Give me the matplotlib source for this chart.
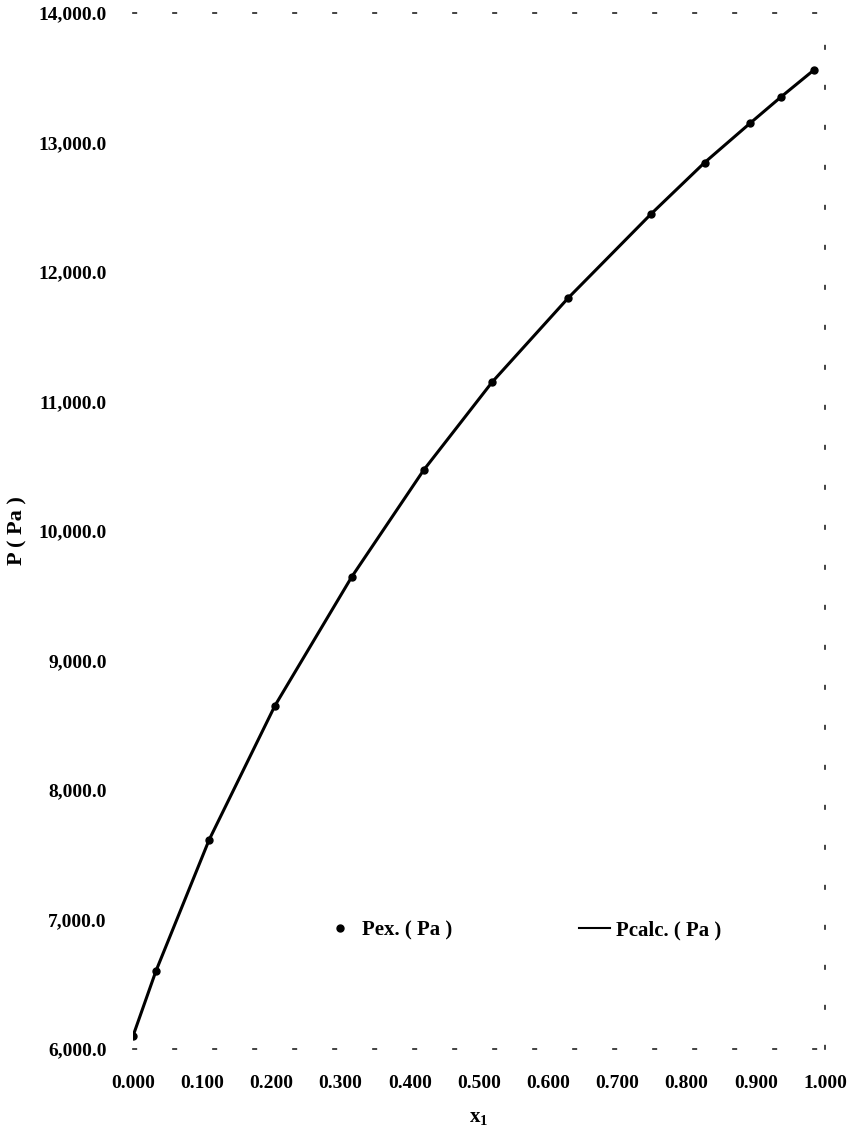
import matplotlib
matplotlib.use("Agg")
import matplotlib.pyplot as plt
from matplotlib.lines import Line2D
from matplotlib.ticker import FuncFormatter, MultipleLocator

# Vapour pressure vs liquid mole fraction
x1 = [0.000, 0.033, 0.110, 0.205, 0.316, 0.420, 0.519, 0.629, 0.749, 0.826,
      0.892, 0.936, 0.984]
p_exp = [6100, 6600, 7615, 8650, 9645, 10470, 11150, 11800, 12450, 12845,
         13150, 13350, 13560]
p_calc = [6100, 6600, 7615, 8650, 9645, 10470, 11150, 11800, 12450, 12845,
          13150, 13350, 13560]

plt.rcParams["font.family"] = ["Liberation Serif", "DejaVu Serif"]
plt.rcParams["font.weight"] = "bold"
plt.rcParams["mathtext.fontset"] = "custom"
plt.rcParams["mathtext.rm"] = "Liberation Serif"
plt.rcParams["mathtext.bf"] = "Liberation Serif:bold"

W, H = 856, 1130
fig = plt.figure(figsize=(W / 100, H / 100), dpi=100)
left, right, top, bottom = 133, 825, 13, 1049
ax = fig.add_axes([left / W, 1 - bottom / H, (right - left) / W, (bottom - top) / H])

ax.plot(x1, p_calc, color="black", lw=2.2, solid_joinstyle="round", zorder=2)
ax.plot(x1, p_exp, "o", color="black", ms=5, zorder=3)

ax.set_xlim(0, 1.0)
ax.set_ylim(6000, 14000)
ax.xaxis.set_major_locator(MultipleLocator(0.1))
ax.yaxis.set_major_locator(MultipleLocator(1000))
ax.xaxis.set_major_formatter(FuncFormatter(lambda v, _: f"{v:.3f}"))
ax.yaxis.set_major_formatter(FuncFormatter(lambda v, _: f"{v:,.1f}"))
ax.tick_params(length=0, labelsize=14)
ax.tick_params(axis="x", pad=19)
ax.tick_params(axis="y", pad=19)
for lab in ax.get_xticklabels() + ax.get_yticklabels():
    lab.set_fontweight("bold")

# faint, broken frame
ax.spines["left"].set_visible(False)
for side in ("top", "bottom", "right"):
    sp = ax.spines[side]
    sp.set_linestyle((0, (2, 22)))
    sp.set_linewidth(1.2)
    sp.set_color("#222222")

ax.set_xlabel(r"$\mathbf{x}_{\mathbf{1}}$", fontsize=15, labelpad=12)
fig.text(17 / W, 1 - 531 / H, "P ( Pa )", rotation=90, fontsize=16,
         fontweight="bold", ha="center", va="center")

handles = [
    Line2D([], [], marker="o", ls="none", color="black", ms=5),
    Line2D([], [], color="black", lw=1.5),
]
leg = ax.legend(handles, ["Pex. ( Pa )", "Pcalc. ( Pa )"], ncol=2,
                loc="center left", bbox_to_anchor=(324 / W, 1 - 930 / H),
                bbox_transform=fig.transFigure, frameon=False,
                borderpad=0, borderaxespad=0, handlelength=1.5,
                handletextpad=0.3, columnspacing=6.1,
                prop={"family": "Liberation Serif", "weight": "bold", "size": 15})

fig.savefig("out.png", dpi=100, facecolor="white")
